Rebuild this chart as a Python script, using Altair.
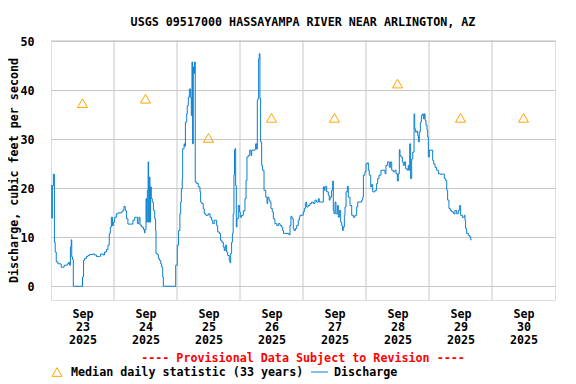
import altair as alt
import pandas as pd

title_text = "USGS 09517000 HASSAYAMPA RIVER NEAR ARLINGTON, AZ"
y_title = "Discharge, cubic feet per second"
footer_text = "---- Provisional Data Subject to Revision ----"
legend_median = "Median daily statistic (33 years)"
legend_flow = "Discharge"

start = "2025-09-23T00:00:00"

# hours after 2025-09-23 00:00 (local) and discharge in cfs
hours = [
    0.0, 0.3, 0.5, 0.9, 1.3, 1.6, 2.0, 2.6, 3.7, 3.9, 5.0, 6.2, 6.7, 7.1, 7.4, 7.7, 7.9, 8.2, 8.5,
    12.0, 12.4, 12.8, 13.5, 14.1, 14.7, 16.0, 16.6, 17.3, 18.5, 18.9, 19.8, 20.4, 21.1, 21.7,
    22.2, 22.6, 23.0, 23.4, 23.75, 24.25, 24.9, 25.5, 26.8, 27.4, 27.8, 28.3, 28.8, 29.3, 30.6,
    31.2, 31.9, 32.5, 32.9, 33.5, 33.9, 34.5, 35.2, 35.6, 35.8, 36.2, 36.45, 36.7, 37.0, 37.2,
    37.45, 37.7, 37.95, 38.2, 38.6, 39.0, 39.5, 39.85, 40.0, 40.5, 40.9, 41.3, 41.8, 42.15,
    42.55, 42.8, 47.5, 48.1, 48.6, 49.1, 49.4, 49.65, 50.0, 50.15, 50.7, 50.9, 51.2, 51.7,
    51.9, 52.3, 52.7, 53.2, 53.45, 53.7, 53.95, 54.2, 54.45, 54.7, 54.95, 55.5, 56.1, 56.75,
    57.0, 57.4, 58.0, 58.4, 59.0, 59.9, 60.6, 61.2, 61.6, 62.2, 63.1, 63.5, 64.1, 64.6, 65.1,
    65.65, 66.0, 66.4, 66.9, 67.3, 67.9, 68.2, 68.45, 68.8, 69.1, 69.4, 69.7, 69.9, 70.1,
    70.35, 70.6, 70.85, 71.35, 71.85, 72.1, 72.6, 73.25, 73.9, 74.3, 74.65, 75.15, 75.7,
    76.2, 76.45, 77.7, 77.95, 78.35, 78.6, 78.85, 79.1, 79.35, 79.6, 79.85, 80.25, 80.6,
    81.15, 81.8, 82.3, 82.55, 83.05, 83.45, 83.8, 84.3, 84.7, 85.3, 86.0, 86.6, 87.25,
    87.85, 88.25, 88.6, 90.65, 91.05, 91.4, 91.8, 92.3, 92.55, 93.1, 93.6, 94.2, 94.6,
    94.85, 96.1, 96.5, 96.9, 97.15, 97.4, 98.0, 98.65, 99.3, 99.95, 100.55, 101.2, 101.85,
    102.2, 103.75, 104.1, 104.4, 105.0, 105.65, 106.0, 106.3, 106.9, 107.3, 107.55, 107.8,
    108.2, 108.55, 109.1, 109.45, 109.85, 110.35, 110.75, 111.1, 111.35, 111.75, 112.0,
    112.4, 112.9, 113.25, 113.9, 114.55, 115.2, 115.8, 116.45, 116.85, 118.35, 118.75,
    119.0, 119.6, 120.0, 120.5, 120.9, 121.25, 121.8, 122.15, 122.55, 123.45, 124.05,
    124.45, 124.95, 125.7, 127.25, 127.6, 128.25, 128.9, 129.4, 129.8, 130.4, 131.05,
    131.45, 131.95, 132.3, 132.7, 132.95, 133.35, 133.85, 134.2, 134.6, 135.1, 135.75,
    136.1, 136.4, 136.65, 137.0, 137.4, 137.8, 138.3, 138.55, 138.8, 139.3, 139.7, 139.95,
    140.3, 140.7, 141.1, 141.45, 141.85, 142.2, 142.5, 142.85, 143.25, 143.5, 143.75,
    144.1, 145.4, 145.8, 146.3, 146.9, 147.55, 148.2, 149.85, 150.35, 150.75, 151.1,
    151.6, 152.1, 152.6, 153.4, 153.9, 154.55, 155.15, 155.7, 156.05, 156.7, 157.45,
    157.7, 157.95, 158.35, 159.0, 159.5, 159.9, 160.2,
]
discharge = [
    20.6, 13.9, 20.5, 22.9, 9.0, 7.0, 5.0, 4.6, 4.5, 3.9, 4.3, 4.6, 4.9, 4.3, 8.0, 9.5, 6.0, 5.5, 0.0,
    1.9, 5.3, 5.7, 6.1, 6.3, 6.5, 6.6, 6.4, 6.1, 6.1, 6.6, 6.4, 7.0, 7.5, 8.4,
    10.8, 12.1, 14.1, 12.4, 13.1, 14.1, 14.8, 15.0, 15.2, 15.6, 16.3, 15.4, 13.8, 12.7, 12.7,
    13.5, 14.1, 14.1, 12.8, 14.1, 12.5, 12.1, 11.6, 10.9, 11.6, 17.9, 13.1, 19.6, 25.4, 13.1,
    22.3, 13.1, 20.3, 17.9, 17.2, 15.5, 13.8, 11.4, 6.7, 6.5, 5.7, 5.3, 4.6, 3.9,
    1.9, 0.0, 4.3, 8.4, 11.4, 14.8, 17.2, 19.9, 22.0, 28.1, 29.1, 28.6, 33.5, 35.2,
    36.9, 38.6, 40.3, 38.5, 34.9, 45.8, 29.1, 44.8, 43.5, 45.8, 21.3, 21.0, 20.3, 19.3,
    17.2, 16.9, 15.8, 14.8, 14.5, 14.8, 14.1, 13.5, 12.8, 13.5, 12.4, 11.1, 10.8, 9.4, 9.0,
    8.0, 7.3, 8.4, 7.0, 6.3, 5.3, 4.8, 6.7, 9.0, 10.8, 14.8, 22.7, 27.8, 28.1,
    20.6, 12.1, 13.8, 16.5, 15.2, 14.1, 14.5, 15.4, 17.9, 21.6, 26.4, 26.7, 27.8,
    26.7, 27.8, 28.0, 29.1, 28.0, 38.0, 38.3, 46.5, 47.5, 38.3, 29.5, 24.7, 23.7,
    19.6, 18.2, 16.9, 18.2, 17.6, 17.2, 15.9, 15.2, 13.8, 12.8, 12.4, 12.8, 12.4,
    12.1, 11.4, 10.8, 10.5, 12.4, 14.3, 13.8, 11.8, 11.4, 11.8, 12.4, 13.5, 14.1,
    14.5, 15.2, 15.9, 16.9, 17.2, 16.2, 16.5, 16.9, 17.2, 16.9, 17.6, 17.2, 17.9,
    17.2, 20.3, 19.6, 20.4, 19.3, 18.6, 17.6, 18.2, 19.6, 21.5, 15.5, 14.8,
    17.2, 14.8, 16.5, 14.1, 15.5, 13.1, 12.4, 11.4, 12.1, 14.5, 16.2,
    19.3, 20.4, 18.2, 16.5, 14.5, 14.1, 14.5, 16.2, 17.2, 17.6, 18.2,
    22.7, 23.4, 25.0, 25.2, 23.7, 22.7, 20.3, 20.8, 19.3, 19.6, 21.0,
    22.0, 22.7, 23.7, 23.0, 24.7, 25.4, 24.3, 25.4, 23.7, 23.4, 23.7,
    23.0, 21.5, 23.0, 27.9, 26.7, 26.4, 25.4, 24.7, 25.4, 24.0, 23.7,
    24.7, 23.7, 29.1, 22.0, 26.0, 27.4, 35.2, 32.2, 31.5, 31.7, 30.8, 29.5,
    31.5, 33.5, 34.9, 35.2, 34.2, 35.2, 33.9, 32.9, 31.9, 30.5, 26.4,
    27.8, 25.7, 25.0, 24.3, 23.7, 23.0, 22.9, 22.0, 21.6, 19.6, 17.6,
    15.9, 15.5, 15.2, 14.8, 15.5, 14.8, 15.5, 16.5, 14.5, 14.1, 14.5,
    13.5, 11.8, 10.8, 10.4, 10.1, 9.5, 9.5,
]

median_days = [
    "2025-09-23T12:00:00", "2025-09-24T12:00:00", "2025-09-25T12:00:00", "2025-09-26T12:00:00",
    "2025-09-27T12:00:00", "2025-09-28T12:00:00", "2025-09-29T12:00:00", "2025-09-30T12:00:00",
]
median_values = [37.4, 38.3, 30.3, 34.4, 34.4, 41.4, 34.4, 34.4]

grid_days = [
    "2025-09-24T00:00:00", "2025-09-25T00:00:00", "2025-09-26T00:00:00", "2025-09-27T00:00:00",
    "2025-09-28T00:00:00", "2025-09-29T00:00:00", "2025-09-30T00:00:00",
]
label_days = [23, 24, 25, 26, 27, 28, 29, 30]
y_ticks = [0, 10, 20, 30, 40, 50]

FONT = "DejaVu Sans Mono"
FS = 11.7
BLUE = "#0a7fd0"
ORANGE = "#ffa500"
GRID = "#c8c8c8"

t0 = pd.Timestamp(start)
flow = pd.DataFrame({
    "time": [(t0 + pd.Timedelta(hours=h)).strftime("%Y-%m-%dT%H:%M:%S") for h in hours],
    "value": discharge,
})
med = pd.DataFrame({"time": median_days, "value": median_values})
grid = pd.DataFrame({"time": grid_days})
one = pd.DataFrame({"k": [0]})

x_scale = alt.Scale(
    type="time",
    domain=[alt.DateTime(year=2025, month=9, date=23), alt.DateTime(year=2025, month=10, date=1)],
    nice=False,
)
x_axis = alt.Axis(
    values=[alt.DateTime(year=2025, month=9, date=d, hours=12) for d in label_days],
    labelExpr="[timeFormat(datum.value, '%b'), timeFormat(datum.value, '%d'), timeFormat(datum.value, '%Y')]",
    grid=False, ticks=False, domain=False, title=None,
    labelFont=FONT, labelFontSize=FS, labelFontWeight="bold", labelColor="black",
    labelPadding=8, labelLineHeight=13, labelOverlap=False, labelBaseline="top",
)
y_scale = alt.Scale(domain=[-2.8, 50.3], nice=False, zero=False)
y_axis = alt.Axis(
    values=y_ticks, grid=True, gridColor=GRID, gridWidth=1, gridOpacity=1,
    ticks=False, domain=False,
    labelFont=FONT, labelFontSize=FS, labelFontWeight="bold", labelColor="black", labelPadding=17,
    title=y_title, titleFont=FONT, titleFontSize=FS, titleFontWeight="bold", titleColor="black",
    titleX=-37.5, titleY=130, titleAlign="center", titleBaseline="middle", titleAngle=270,
)

def xenc():
    return alt.X("time:T", scale=x_scale, axis=x_axis)

def yenc():
    return alt.Y("value:Q", scale=y_scale, axis=y_axis)

rules = alt.Chart(grid).mark_rule(color=GRID, strokeWidth=1).encode(x=xenc())

line = alt.Chart(flow).mark_line(
    interpolate="step-after", color=BLUE, strokeWidth=1
).encode(x=xenc(), y=yenc())

pts = alt.Chart(med).mark_point(
    shape="triangle-up", size=100, filled=False, color=ORANGE, strokeWidth=1, opacity=1
).encode(x=xenc(), y=yenc())

txt_style = dict(font=FONT, fontSize=FS, fontWeight="bold", baseline="middle")

footer = alt.Chart(one).mark_text(color="#ff0000", align="center", **txt_style).encode(
    x=alt.value(252), y=alt.value(318), text=alt.value(footer_text)
)
leg_tri = alt.Chart(one).mark_point(
    shape="triangle-up", size=100, filled=False, color=ORANGE, strokeWidth=1, opacity=1
).encode(x=alt.value(6), y=alt.value(332))
leg_t1 = alt.Chart(one).mark_text(color="black", align="left", **txt_style).encode(
    x=alt.value(20), y=alt.value(332), text=alt.value(legend_median)
)
leg_line = alt.Chart(one).mark_rule(color=BLUE, strokeWidth=1).encode(
    x=alt.value(260), x2=alt.value(277), y=alt.value(332)
)
leg_t2 = alt.Chart(one).mark_text(color="black", align="left", **txt_style).encode(
    x=alt.value(283), y=alt.value(332), text=alt.value(legend_flow)
)

chart = alt.layer(rules, line, pts, footer, leg_tri, leg_t1, leg_line, leg_t2).properties(
    width=504,
    height=260,
    title=alt.TitleParams(
        title_text, font=FONT, fontSize=FS, fontWeight="bold", color="black",
        anchor="middle", baseline="middle", offset=3,
    ),
    autosize=alt.AutoSizeParams(type="none"),
    padding={"left": 43, "top": 32, "right": 13, "bottom": 83},
).configure_view(stroke="black", strokeWidth=2).configure(background="white")

chart.save("out.html", embed_options={"renderer": "svg", "actions": False})
